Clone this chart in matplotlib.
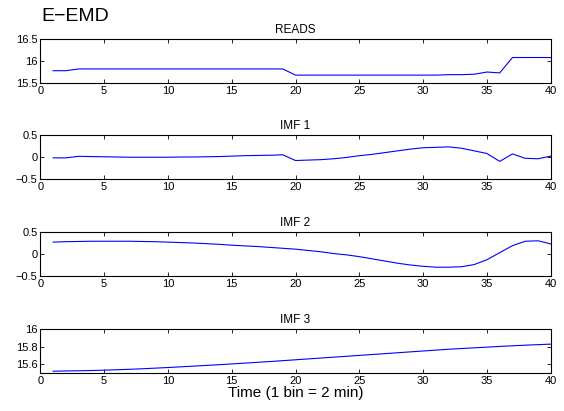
import matplotlib
matplotlib.use("Agg")
import matplotlib.pyplot as plt

plt.rcParams["font.family"] = ["Liberation Sans", "DejaVu Sans"]

t = list(range(1, 41))

reads = [15.78, 15.78, 15.82, 15.82, 15.82, 15.82, 15.82, 15.82, 15.82, 15.82,
         15.82, 15.82, 15.82, 15.82, 15.82, 15.82, 15.82, 15.82, 15.82, 15.68,
         15.68, 15.68, 15.68, 15.68, 15.68, 15.68, 15.68, 15.68, 15.68, 15.68,
         15.68, 15.69, 15.69, 15.70, 15.75, 15.73, 16.08, 16.08, 16.08, 16.08]

imf1 = [-0.02, -0.02, 0.015, 0.01, 0.005, 0.0, -0.005, -0.005, -0.005, -0.005,
        0.0, 0.0, 0.005, 0.01, 0.02, 0.03, 0.035, 0.04, 0.05, -0.08,
        -0.07, -0.06, -0.04, -0.01, 0.03, 0.06, 0.10, 0.14, 0.18, 0.21,
        0.22, 0.23, 0.20, 0.14, 0.08, -0.10, 0.07, -0.03, -0.04, 0.02]

imf2 = [0.27, 0.28, 0.285, 0.29, 0.29, 0.29, 0.29, 0.285, 0.28, 0.27,
        0.26, 0.25, 0.235, 0.22, 0.20, 0.185, 0.17, 0.15, 0.13, 0.11,
        0.08, 0.05, 0.01, -0.02, -0.06, -0.11, -0.16, -0.21, -0.25, -0.28,
        -0.30, -0.30, -0.29, -0.24, -0.13, 0.03, 0.19, 0.29, 0.30, 0.23]

imf3 = [15.52, 15.523, 15.525, 15.528, 15.532, 15.537, 15.542, 15.548, 15.555, 15.562,
        15.57, 15.578, 15.586, 15.594, 15.603, 15.612, 15.621, 15.63, 15.64, 15.65,
        15.66, 15.67, 15.68, 15.69, 15.70, 15.71, 15.72, 15.73, 15.74, 15.75,
        15.76, 15.77, 15.778, 15.786, 15.794, 15.802, 15.809, 15.816, 15.822, 15.828]

titles = ["READS", "IMF 1", "IMF 2", "IMF 3"]
series = [reads, imf1, imf2, imf3]
ylims = [(15.5, 16.5), (-0.5, 0.5), (-0.5, 0.5), (15.5, 16.0)]
yticks = [[15.5, 16, 16.5], [-0.5, 0, 0.5], [-0.5, 0, 0.5], [15.6, 15.8, 16]]
ytick_labels = [["15.5", "16", "16.5"], ["\u22120.5", "0", "0.5"],
                ["\u22120.5", "0", "0.5"], ["15.6", "15.8", "16"]]
bottoms = [0.798, 0.5645, 0.3285, 0.0925]

fig = plt.figure(figsize=(5.64, 4.11), dpi=100)

for i in range(4):
    ax = fig.add_axes([0.0715, bottoms[i], 0.905, 0.107])
    ax.plot(t, series[i], color="blue", lw=0.8)
    ax.set_xlim(0, 40)
    ax.set_ylim(*ylims[i])
    ax.set_xticks(range(0, 41, 5))
    ax.set_yticks(yticks[i])
    ax.set_yticklabels(ytick_labels[i])
    ax.tick_params(direction="in", top=True, right=True, labelsize=8,
                   length=3, width=0.6, pad=2)
    for sp in ax.spines.values():
        sp.set_linewidth(0.8)
    ax.set_title(titles[i], fontsize=8.5, pad=4)
    if i == 3:
        ax.set_xlabel("Time (1 bin = 2 min)", fontsize=11, labelpad=0)

fig.text(0.074, 0.98, "E\u2212EMD", fontsize=14, va="top", ha="left")

fig.savefig("out.png", dpi=100)
